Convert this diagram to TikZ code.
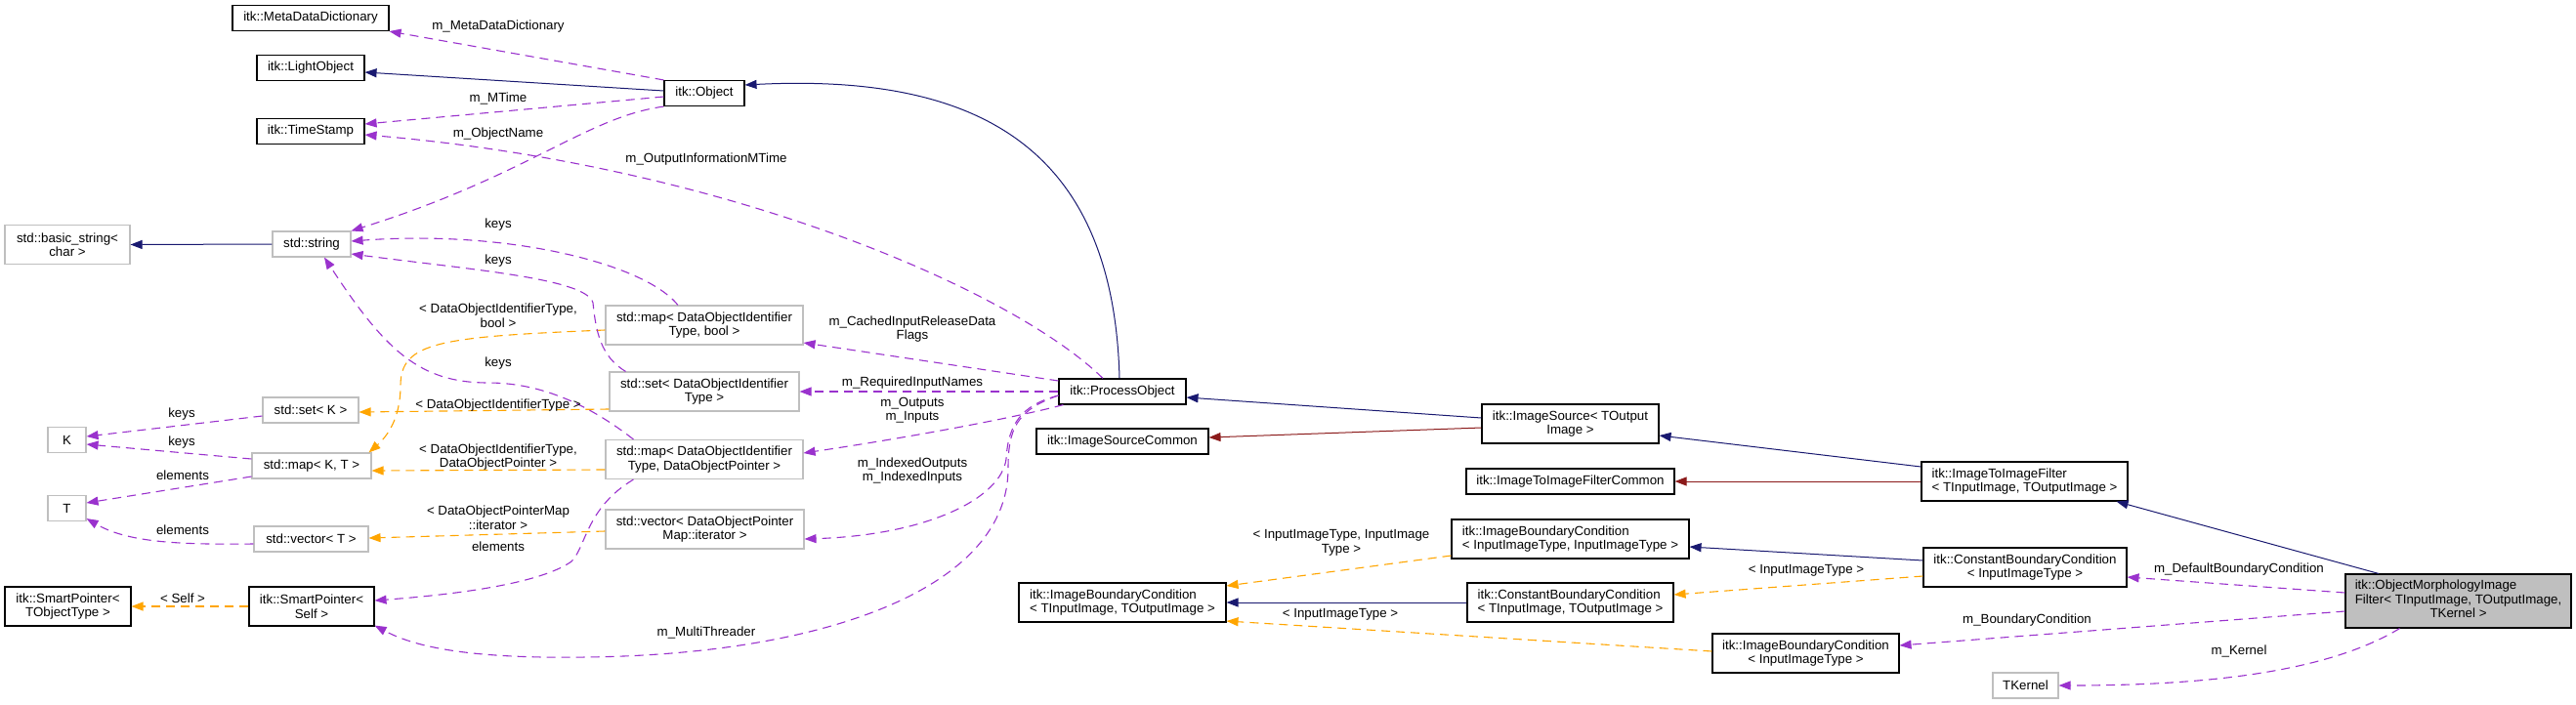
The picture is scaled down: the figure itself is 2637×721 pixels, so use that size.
\documentclass[tikz,border=0pt]{standalone}
\usepackage{fontspec}
\setmainfont{Liberation Sans}
\usetikzlibrary{arrows.meta,calc}
\definecolor{inhblue}{HTML}{191970}
\definecolor{privred}{HTML}{8B1A1A}
\definecolor{usepurple}{HTML}{9A32CD}
\definecolor{tmplorange}{HTML}{FFA500}
\definecolor{extgray}{HTML}{BFBFBF}
\definecolor{mainfill}{HTML}{BFBFBF}
\begin{document}
\begin{tikzpicture}[x=1pt,y=-1pt,
  font=\fontsize{13.3}{14.5}\selectfont,
  cls/.style={draw=black,line width=1.1pt,fill=white,inner sep=0pt,minimum height=26pt,align=center},
  ext/.style={cls,draw=extgray},
  twol/.style={minimum height=40pt},
  inh/.style={draw=inhblue,line width=1pt,-{Triangle[length=12pt,width=9pt]}},
  priv/.style={inh,draw=privred},
  usage/.style={draw=usepurple,line width=1.1pt,dash pattern=on 9pt off 6pt,-{Triangle[length=12pt,width=9pt]}},
  tmpl/.style={usage,draw=tmplorange},
  lbl/.style={align=center,inner sep=0pt}]
\useasboundingbox (0,0) rectangle (2637,721);
\node[cls,minimum width=160pt] (mdd) at (318,18.5) {itk::MetaDataDictionary};
\node[cls,minimum width=110pt] (lobj) at (318,69.5) {itk::LightObject};
\node[cls,minimum width=82pt] (obj) at (721,95.5) {itk::Object};
\node[cls,minimum width=110pt] (tstamp) at (318,134.5) {itk::TimeStamp};
\node[ext,twol,minimum width=128pt] (bstr) at (69,250.5) {std::basic\_string<\\char >};
\node[ext,minimum width=80pt] (str) at (319,250) {std::string};
\node[ext,minimum width=98pt] (setk) at (318,420) {std::set< K >};
\node[ext,minimum width=39pt] (kk) at (68.5,450.5) {K};
\node[ext,minimum width=122pt] (mapkt) at (319,477) {std::map< K, T >};
\node[ext,minimum width=39pt] (tt) at (68.5,520.5) {T};
\node[ext,minimum width=117pt] (vect) at (318.5,552) {std::vector< T >};
\node[cls,twol,minimum width=129pt] (spobj) at (69.5,621) {itk::SmartPointer<\\TObjectType >};
\node[cls,twol,minimum width=128pt] (spself) at (319,621) {itk::SmartPointer<\\Self >};
\node[ext,twol,minimum width=202pt] (mapbool) at (721,333) {std::map< DataObjectIdentifier\\Type, bool >};
\node[ext,twol,minimum width=194pt] (setid) at (721,401) {std::set< DataObjectIdentifier\\Type >};
\node[ext,twol,minimum width=202pt] (mapptr) at (721,470.5) {std::map< DataObjectIdentifier\\Type, DataObjectPointer >};
\node[ext,twol,minimum width=203pt] (vecit) at (721.5,542) {std::vector< DataObjectPointer\\Map::iterator >};
\node[cls,minimum width=130pt] (proc) at (1149,401) {itk::ProcessObject};
\node[cls,minimum width=176pt] (srccom) at (1149,452) {itk::ImageSourceCommon};
\node[cls,twol,align=left,minimum width=212pt] (ibcio) at (1149,617) {itk::ImageBoundaryCondition\\< TInputImage, TOutputImage >};
\node[cls,twol,minimum width=181pt] (src) at (1607.5,434) {itk::ImageSource< TOutput\\Image >};
\node[cls,minimum width=213pt] (filtcom) at (1607.5,493) {itk::ImageToImageFilterCommon};
\node[cls,twol,align=left,minimum width=243pt] (ibcii) at (1607.5,552) {itk::ImageBoundaryCondition\\< InputImageType, InputImageType >};
\node[cls,twol,align=left,minimum width=211pt] (cbcio) at (1607.5,617) {itk::ConstantBoundaryCondition\\< TInputImage, TOutputImage >};
\node[cls,twol,minimum width=191pt] (ibci) at (1848.5,669) {itk::ImageBoundaryCondition\\< InputImageType >};
\node[cls,twol,align=left,minimum width=211pt] (filt) at (2072.5,493) {itk::ImageToImageFilter\\< TInputImage, TOutputImage >};
\node[cls,twol,minimum width=208pt] (cbci) at (2073,581) {itk::ConstantBoundaryCondition\\< InputImageType >};
\node[cls,fill=mainfill,minimum width=231pt,minimum height=55pt] (morph) at (2516.5,615.5) {\begin{tabular}{@{}l@{}}itk::ObjectMorphologyImage\\Filter< TInputImage, TOutputImage,\\\multicolumn{1}{@{}c@{}}{TKernel >}\end{tabular}};
\node[ext,minimum width=67pt] (tkern) at (2073.5,702) {TKernel};

\draw[inh] ($(obj.west)+(0,-2.5)$) -- ($(lobj.east)+(0,4.5)$);
\draw[inh] ($(proc.north)+(-3,0)$) .. controls (1140,150) and (1000,75) .. ($(obj.east)+(0,-8.5)$);
\draw[inh] (str.west) -- (bstr.east);
\draw[inh] ($(src.west)+(0,-6)$) -- ($(proc.east)+(0,6)$);
\draw[priv] ($(src.west)+(0,4)$) -- ($(srccom.east)+(0,-4)$);
\draw[inh] ($(filt.west)+(0,-15)$) -- ($(src.east)+(0,12)$);
\draw[priv] (filt.west) -- (filtcom.east);
\draw[inh] ($(morph.north)+(-81.5,0)$) -- ($(filt.south east)+(-12,0)$);
\draw[inh] ($(cbci.west)+(0,-7)$) -- ($(ibcii.east)+(0,8)$);
\draw[inh] (cbcio.west) -- (ibcio.east);

\draw[tmpl] ($(setid.west)+(0,18)$) -- ($(setk.east)+(0,2)$);
\draw[tmpl] ($(mapbool.west)+(0,5)$) .. controls (450,345) and (410,350) .. (410,395) .. controls (410,430) and (395,448) .. ($(mapkt.north east)+(-3,0)$);
\draw[tmpl] ($(mapptr.west)+(0,10.5)$) -- ($(mapkt.east)+(0,5)$);
\draw[tmpl] ($(vecit.west)+(0,2)$) -- ($(vect.east)+(0,-1)$);
\draw[tmpl] (spself.west) -- (spobj.east);
\draw[tmpl] ($(ibcii.west)+(0,17)$) -- ($(ibcio.east)+(0,-17)$);
\draw[tmpl] ($(ibci.west)+(0,-2)$) -- ($(ibcio.east)+(0,19)$);
\draw[tmpl] ($(cbci.west)+(0,9)$) -- ($(cbcio.east)+(0,-8)$);

\draw[usage] (obj.north west) -- (mdd.south east);
\draw[usage] ($(obj.west)+(0,3.5)$) -- ($(tstamp.east)+(0,-7.5)$);
\draw[usage] (obj.south west) .. controls (600,120) and (540,180) .. (str.north east);
\draw[usage] ($(proc.north)+(-20,0)$) .. controls (1040,300) and (750,170) .. ($(tstamp.east)+(0,3.5)$);
\draw[usage] ($(mapbool.north)+(-27,0)$) .. controls (660,270) and (520,235) .. ($(str.east)+(0,-3)$);
\draw[usage] ($(setid.north west)+(17,0)$) .. controls (615,365) and (610,340) .. (607,310) .. controls (600,285) and (480,276) .. ($(str.east)+(0,10)$);
\draw[usage] ($(mapptr.north west)+(29,0)$) .. controls (610,420) and (560,392) .. (500,392) .. controls (430,392) and (395,360) .. ($(str.south)+(13,0)$);
\draw[usage] ($(setk.west)+(0,6)$) -- ($(kk.east)+(0,-3.5)$);
\draw[usage] ($(mapkt.west)+(0,-7)$) -- ($(kk.east)+(0,4.5)$);
\draw[usage] ($(mapkt.west)+(0,11)$) -- ($(tt.east)+(0,-5.5)$);
\draw[usage] ($(vect.west)+(0,5)$) .. controls (180,558) and (130,555) .. ($(tt.south east)+(0,-3)$);
\draw[usage] ($(mapptr.south west)+(29,0)$) .. controls (600,520) and (600,560) .. (585,575) .. controls (550,600) and (450,610) .. ($(spself.east)+(0,-6)$);
\draw[usage] ($(proc.west)+(0,4)$) .. controls (1040,420) and (1032,440) .. (1032,480) .. controls (1032,600) and (850,670) .. (600,673) .. controls (470,675) and (420,660) .. ($(spself.south east)+(0,-1)$);
\draw[usage] ($(proc.west)+(0,-11)$) -- ($(mapbool.east)+(0,18)$);
\draw[usage] (proc.west) -- (setid.east);
\draw[usage] ($(proc.south west)+(5,0)$) .. controls (1050,425) and (950,445) .. ($(mapptr.east)+(0,-6.5)$);
\draw[usage] ($(proc.west)+(0,4)$) .. controls (1045,415) and (1032,435) .. (1030,470) .. controls (1025,510) and (950,548) .. ($(vecit.east)+(0,10)$);
\draw[usage] ($(morph.west)+(0,-8.5)$) -- ($(cbci.east)+(0,10)$);
\draw[usage] ($(morph.west)+(0,10.5)$) -- ($(ibci.east)+(0,-8)$);
\draw[usage] ($(morph.south)+(-60,0)$) .. controls (2380,690) and (2250,702) .. (tkern.east);

\node[lbl] (lMdd) at (510,27) {m\_MetaDataDictionary};
\node[lbl] (lMTime) at (510,101) {m\_MTime};
\node[lbl] (lName) at (510,137) {m\_ObjectName};
\node[lbl] (lOutInfo) at (723,163) {m\_OutputInformationMTime};
\node[lbl] (lKeysA) at (510,230) {keys};
\node[lbl] (lKeysB) at (510,267) {keys};
\node[lbl] (lKeysC) at (510,372) {keys};
\node[lbl] (lMapBool) at (510,323) {< DataObjectIdentifierType,\\bool >};
\node[lbl] (lSetId) at (510,415) {< DataObjectIdentifierType >};
\node[lbl] (lMapPtr) at (510,468) {< DataObjectIdentifierType,\\DataObjectPointer >};
\node[lbl] (lVecIt) at (510,530) {< DataObjectPointerMap\\::iterator >};
\node[lbl] (lElemC) at (510,560) {elements};
\node[lbl] (lKeysK) at (186,424) {keys};
\node[lbl] (lKeysM) at (186,453) {keys};
\node[lbl] (lElemA) at (187,487) {elements};
\node[lbl] (lElemB) at (187,543) {elements};
\node[lbl] (lSelf) at (187,613) {< Self >};
\node[lbl] (lThreader) at (723,648) {m\_MultiThreader};
\node[lbl] (lCached) at (934,337) {m\_CachedInputReleaseData\\Flags};
\node[lbl] (lReq) at (934,392) {m\_RequiredInputNames};
\node[lbl] (lInOut) at (934,420) {m\_Outputs\\m\_Inputs};
\node[lbl] (lIdx) at (934,482) {m\_IndexedOutputs\\m\_IndexedInputs};
\node[lbl] (lIbcii) at (1373,556) {< InputImageType, InputImage\\Type >};
\node[lbl] (lIbci) at (1372,629) {< InputImageType >};
\node[lbl] (lCbci) at (1849,584) {< InputImageType >};
\node[lbl] (lDefault) at (2292,583) {m\_DefaultBoundaryCondition};
\node[lbl] (lBound) at (2075,635) {m\_BoundaryCondition};
\node[lbl] (lKernel) at (2292,667) {m\_Kernel};
\end{tikzpicture}
\end{document}
